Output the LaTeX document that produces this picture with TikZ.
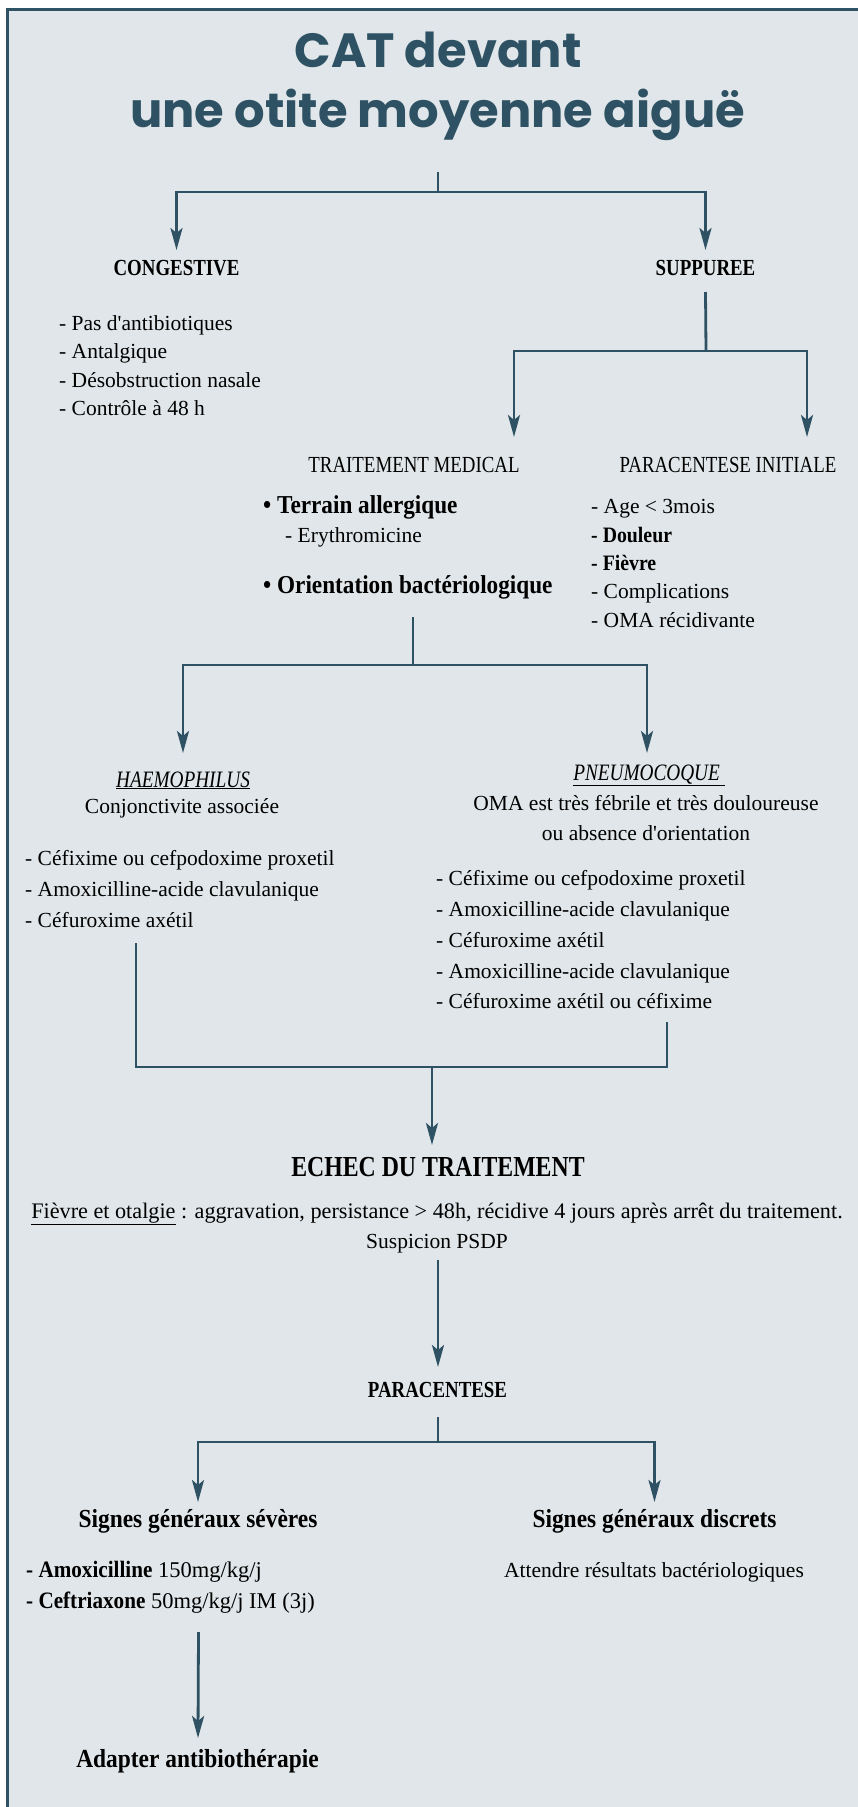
\documentclass[tikz,border=0pt]{standalone}
\usepackage{fontspec}
\setmainfont{Liberation Serif}
\newfontfamily\capsfont{Liberation Serif}[FakeStretch=0.82]
\newfontfamily\bcondfont{Liberation Serif}[FakeStretch=0.9]
\newfontfamily\titlefont{Poppins}
\usetikzlibrary{arrows.meta}
\definecolor{lineC}{HTML}{2E5263}
\definecolor{bgC}{HTML}{E0E6E9}
\newcommand\fbody{\fontsize{21.5pt}{26pt}\selectfont}
\tikzset{
  conn/.style={draw=lineC, line width=2.8pt},
  arr/.style={-{Stealth[length=22pt,width=12pt,inset=5pt]}},
  titletxt/.style={inner sep=0pt, anchor=base, text=lineC, font=\titlefont\bfseries\fontsize{48pt}{56pt}\selectfont},
  capsbold/.style={inner sep=0pt, anchor=base, font=\capsfont\bfseries\fontsize{23pt}{26pt}\selectfont},
  capsreg/.style={inner sep=0pt, anchor=base, font=\capsfont\fontsize{23pt}{26pt}\selectfont},
  capsital/.style={inner sep=0pt, anchor=base, font=\capsfont\itshape\fontsize{23.5pt}{26pt}\selectfont},
  headbold/.style={inner sep=0pt, anchor=base, font=\bcondfont\bfseries\fontsize{26pt}{30pt}\selectfont},
  bodyc/.style={inner sep=0pt, anchor=base, font=\fbody},
  bodyl/.style={inner sep=0pt, anchor=base west, font=\fbody},
  bulletl/.style={inner sep=0pt, anchor=base west, font=\bcondfont\bfseries\fontsize{25.8pt}{30pt}\selectfont},
}
\begin{document}
\begin{tikzpicture}[x=1pt,y=-1pt]
\useasboundingbox (0,0) rectangle (858,1807);
\fill[white] (0,0) rectangle (858,1807);
\fill[bgC] (7.5,9.5) rectangle (858,1807);
\draw[lineC, line width=3pt] (7.5,1807) -- (7.5,9.5) -- (858,9.5);

% title
\node[titletxt] (title1) at (438,67) {CAT devant};
\node[titletxt] (title2) at (437.5,127) {une otite moyenne aiguë};

% level 1
\node[capsbold] (cong) at (176.5,275) {CONGESTIVE};
\node[capsbold] (supp) at (705.5,275) {SUPPUREE};
\coordinate (t0) at (438,172);
\coordinate (t1) at (438,192);
\draw[conn] (t0) -- (t1);
\draw[conn,arr] (t1) -| ([yshift=25pt]cong.base);
\draw[conn,arr] (t1) -| ([yshift=25pt]supp.base);

\node[bodyl] (c1) at (59,330) {- Pas d\textquotesingle antibiotiques};
\node[bodyl] (c2) at (59,358.5) {- Antalgique};
\node[bodyl] (c3) at (59,387) {- Désobstruction nasale};
\node[bodyl] (c4) at (59,415) {- Contrôle à 48 h};

% suppuree branch
\node[capsreg] (tm) at (414,472) {TRAITEMENT MEDICAL};
\node[capsreg] (pi) at (728,472) {PARACENTESE INITIALE};
\coordinate (s1) at (706,351);
\draw[conn] ([yshift=-17pt]supp.base) -- (s1);
\draw[conn,arr] (s1) -| ([xshift=100pt,yshift=35pt]tm.base);
\draw[conn,arr] (s1) -| ([xshift=79pt,yshift=35pt]pi.base);

\node[bulletl] (terr) at (263,513) {• Terrain allergique};
\node[bodyl] (ery) at (285,542) {- Erythromicine};
\node[bulletl] (orient) at (263,593) {• Orientation bactériologique};

\node[bodyl] (p1) at (591,513) {- Age < 3mois};
\node[bodyl, font=\bcondfont\bfseries\fontsize{22pt}{26pt}\selectfont] (p2) at (591,542) {- Douleur};
\node[bodyl, font=\bcondfont\bfseries\fontsize{22pt}{26pt}\selectfont] (p3) at (591,570) {- Fièvre};
\node[bodyl] (p4) at (591,598) {- Complications};
\node[bodyl] (p5) at (591,627) {- OMA récidivante};

% orientation branch
\node[capsital] (haem) at (183,787) {\underline{HAEMOPHILUS}};
\node[bodyc] (conj) at (182,813) {Conjonctivite associée};
\node[capsital] (pneu) at (649,780) {\underline{PNEUMOCOQUE\ }};
\node[bodyc] (oma1) at (646,810) {OMA est très fébrile et très douloureuse};
\node[bodyc] (oma2) at (646,840) {ou absence d\textquotesingle orientation};
\coordinate (o0) at (413,617);
\coordinate (o1) at (413,665);
\draw[conn] (o0) -- (o1);
\draw[conn,arr] (o1) -| ([yshift=34pt]haem.base);
\draw[conn,arr] (o1) -| ([xshift=-2pt,yshift=27pt]pneu.base);

\node[bodyl] (h1) at (25,865) {- Céfixime ou cefpodoxime proxetil};
\node[bodyl] (h2) at (25,896) {- Amoxicilline-acide clavulanique};
\node[bodyl] (h3) at (25,927) {- Céfuroxime axétil};

\node[bodyl] (n1) at (436,885) {- Céfixime ou cefpodoxime proxetil};
\node[bodyl] (n2) at (436,916) {- Amoxicilline-acide clavulanique};
\node[bodyl] (n3) at (436,947) {- Céfuroxime axétil};
\node[bodyl] (n4) at (436,978) {- Amoxicilline-acide clavulanique};
\node[bodyl] (n5) at (436,1008) {- Céfuroxime axétil ou céfixime};

% merge
\node[capsbold, font=\capsfont\bfseries\fontsize{29pt}{32pt}\selectfont] (echec) at (438,1176) {ECHEC DU TRAITEMENT};
\coordinate (hl) at (136,943);
\coordinate (hr) at (667,1022);
\coordinate (m1) at (136,1067);
\coordinate (m2) at (667,1067);
\coordinate (m0) at (432,1067);
\draw[conn] (hl) -- (m1) -- (m2) -- (hr);
\draw[conn,arr] (m0) -- ([xshift=-6pt,yshift=31pt]echec.base);

\node[bodyc, font=\fontsize{22.2pt}{26pt}\selectfont] (fievre) at (437,1218) {\underline{Fièvre et otalgie} : aggravation, persistance > 48h, récidive 4 jours après arrêt du traitement.};
\node[bodyc] (susp) at (437,1248) {Suspicion PSDP};
\node[capsbold] (parac) at (437.5,1397) {PARACENTESE};
\draw[conn,arr] ([xshift=1pt,yshift=-12pt]susp.base) -- ([xshift=0.5pt,yshift=30pt]parac.base);

% final level
\node[headbold] (sev) at (198,1527) {Signes généraux sévères};
\node[headbold] (disc) at (654.5,1527) {Signes généraux discrets};
\coordinate (f1) at (438,1442);
\draw[conn] ([xshift=0.5pt,yshift=-20pt]parac.base) -- (f1);
\draw[conn,arr] (f1) -| ([yshift=25pt]sev.base);
\draw[conn,arr] (f1) -| ([yshift=25pt]disc.base);

\node[bodyl, font=\fontsize{22.5pt}{26pt}\selectfont] (amox) at (26,1577) {{\bcondfont\bfseries\fontsize{23.5pt}{26pt}\selectfont - Amoxicilline} 150mg/kg/j};
\node[bodyl, font=\fontsize{22.5pt}{26pt}\selectfont] (ceft) at (26,1608) {{\bcondfont\bfseries\fontsize{23.5pt}{26pt}\selectfont - Ceftriaxone} 50mg/kg/j IM (3j)};
\node[bodyc] (att) at (654,1577) {Attendre résultats bactériologiques};
\node[headbold] (adapt) at (197.5,1767) {Adapter antibiothérapie};
\draw[conn,arr] ([xshift=0.5pt,yshift=-24pt]ceft.base -| sev.base) -- ([xshift=0.5pt,yshift=29pt]adapt.base);
\end{tikzpicture}
\end{document}
